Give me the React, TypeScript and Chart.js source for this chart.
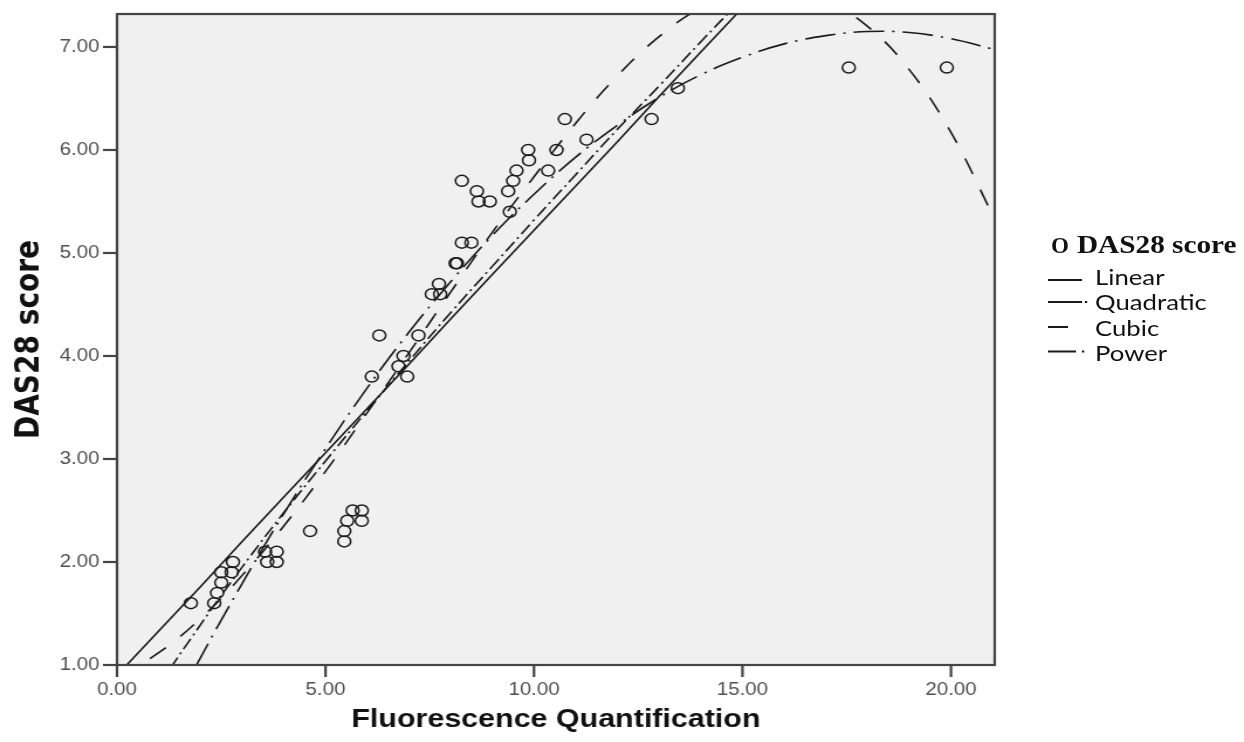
import React, { useEffect, useRef } from "react";
import { Chart, registerables } from "chart.js";

Chart.register(...registerables);

// The reference is horizontally stretched; we draw at CANVAS_W and stretch to 1244.
const CANVAS_W = 1063;
const CANVAS_H = 742;
const STRETCH = 1244 / CANVAS_W;

// ---- axes ----
const xTicks = [0, 5, 10, 15, 20];
const yTicks = [1, 2, 3, 4, 5, 6, 7];
const xMin = 0;
const xMax = 21.05;
const yMin = 1;
const yMax = 7.32;

const xTitle = "Fluorescence Quantification";
const yTitle = "DAS28 score";

// ---- observed points ----
const scoreX = [
  1.77, 2.33, 2.4, 2.5, 2.5, 2.75, 2.78,
  3.55, 3.6, 3.83, 3.83,
  4.63,
  5.45, 5.45, 5.52, 5.65, 5.87, 5.87,
  6.11, 6.29, 6.75, 6.87, 6.96, 7.23,
  7.55, 7.75, 7.72,
  8.12, 8.15,
  8.27, 8.5, 8.27, 8.63, 8.67, 8.94,
  9.38, 9.42, 9.5, 9.58, 9.86, 9.88,
  10.34, 10.54, 10.74, 11.26,
  12.82, 13.45, 17.55, 19.9,
];
const scoreY = [
  1.6, 1.6, 1.7, 1.8, 1.9, 1.9, 2.0,
  2.1, 2.0, 2.1, 2.0,
  2.3,
  2.2, 2.3, 2.4, 2.5, 2.5, 2.4,
  3.8, 4.2, 3.9, 4.0, 3.8, 4.2,
  4.6, 4.6, 4.7,
  4.9, 4.9,
  5.1, 5.1, 5.7, 5.6, 5.5, 5.5,
  5.6, 5.4, 5.7, 5.8, 6.0, 5.9,
  5.8, 6.0, 6.3, 6.1,
  6.3, 6.6, 6.8, 6.8,
];

// ---- fitted curves at x = 0..21 ----
const fitX = [0, 1, 2, 3, 4, 5, 6, 7, 8, 9, 10, 11, 12, 13, 14, 15, 16, 17, 18, 19, 20, 21];
const linearY = [0.9, 1.33, 1.76, 2.2, 2.63, 3.06, 3.49, 3.92, 4.36, 4.79, 5.22, 5.65, 6.08, 6.52, 6.95, 7.38, 7.81, 8.24, 8.68, 9.11, 9.54, 9.97];
const quadraticY = [-0.52, 0.3, 1.07, 1.79, 2.47, 3.1, 3.69, 4.23, 4.72, 5.17, 5.57, 5.93, 6.24, 6.51, 6.73, 6.9, 7.03, 7.11, 7.15, 7.14, 7.08, 6.98];
const cubicY = [0.88, 1.12, 1.45, 1.87, 2.35, 2.88, 3.45, 4.03, 4.62, 5.2, 5.74, 6.26, 6.72, 7.1, 7.38, 7.54, 7.56, 7.45, 7.2, 6.78, 6.17, 5.37];
const powerY = [0, 0.78, 1.39, 1.95, 2.48, 2.98, 3.47, 3.95, 4.42, 4.87, 5.32, 5.76, 6.2, 6.62, 7.05, 7.47, 7.88, 8.28, 8.68, 9.07, 9.45, 9.83];

const seriesName = "DAS28 score";
const fitNames = ["Linear", "Quadratic", "Cubic", "Power"];

const AXIS_COLOR = "#444444";
const TICK_LEN = 12;

const framePlugin = {
  id: "frame",
  beforeDraw(chart: any) {
    const { ctx, chartArea } = chart;
    const { left, top, right, bottom } = chartArea;
    ctx.save();
    ctx.fillStyle = "#f0f0f0";
    ctx.fillRect(left, top, right - left, bottom - top);
    ctx.restore();
  },
  afterDraw(chart: any) {
    const { ctx, chartArea, scales } = chart;
    const { left, top, right, bottom } = chartArea;
    const xs = scales.x;
    const ys = scales.y;
    ctx.save();
    ctx.setLineDash([]);
    ctx.globalAlpha = 1;
    ctx.fillStyle = AXIS_COLOR;
    for (const v of xTicks) {
      const px = xs.getPixelForValue(v);
      ctx.fillRect(px - 1.1, bottom, 2.2, TICK_LEN);
    }
    for (const v of yTicks) {
      const py = ys.getPixelForValue(v);
      ctx.fillRect(left - TICK_LEN, py - 1.1, TICK_LEN, 2.2);
    }
    ctx.strokeStyle = AXIS_COLOR;
    ctx.lineWidth = 2.2;
    ctx.strokeRect(left, top, right - left, bottom - top);
    ctx.restore();
  },
};

export default function App() {
  const ref = useRef<HTMLCanvasElement>(null);

  useEffect(() => {
    const canvas = ref.current;
    if (!canvas) return;
    const pts = (ys: number[]) => fitX.map((x, i) => ({ x, y: ys[i] }));
    const lineBase = {
      showLine: true,
      pointRadius: 0,
      borderColor: "#1a1a1a",
      backgroundColor: "rgba(0,0,0,0)",
      borderWidth: 1.6,
      fill: false,
    };
    const chart = new Chart(canvas, {
      type: "scatter",
      data: {
        datasets: [
          {
            label: seriesName,
            data: scoreX.map((x, i) => ({ x, y: scoreY[i] })),
            pointRadius: 5.5,
            pointBorderWidth: 1.5,
            pointBorderColor: "#1a1a1a",
            pointBackgroundColor: "rgba(0,0,0,0)",
            showLine: false,
          },
          { ...lineBase, label: fitNames[0], data: pts(linearY), tension: 0 },
          { ...lineBase, label: fitNames[1], data: pts(quadraticY), tension: 0.4, borderDash: [26, 7, 2, 7] },
          { ...lineBase, label: fitNames[2], data: pts(cubicY), tension: 0.4, borderDash: [17, 17] },
          { ...lineBase, label: fitNames[3], data: pts(powerY), tension: 0.4, borderDash: [12, 4, 2, 4] },
        ],
      },
      options: {
        responsive: false,
        animation: false,
        devicePixelRatio: 1,
        layout: { padding: { left: 0, top: 14, right: CANVAS_W - 850, bottom: 0 } },
        elements: { line: { capBezierPoints: false } },
        plugins: { legend: { display: false }, tooltip: { enabled: false } },
        scales: {
          x: {
            type: "linear",
            min: xMin,
            max: xMax,
            afterBuildTicks: (s: any) => {
              s.ticks = xTicks.map((v) => ({ value: v }));
            },
            afterFit: (s: any) => {
              s.height = 77;
              s.paddingLeft = 0;
              s.paddingRight = 0;
            },
            ticks: {
              callback: (v: any) => Number(v).toFixed(2),
              font: { family: "Liberation Sans", size: 17.5 },
              color: "#505050",
              padding: 15,
              maxRotation: 0,
            },
            grid: { display: false, drawTicks: false },
            border: { display: true, color: AXIS_COLOR, width: 2 },
            title: {
              display: true,
              text: xTitle,
              font: { family: "Liberation Sans", size: 26, weight: "bold" },
              color: "#111",
              padding: { top: 0, bottom: 7 },
            },
          },
          y: {
            type: "linear",
            min: yMin,
            max: yMax,
            afterBuildTicks: (s: any) => {
              s.ticks = yTicks.map((v) => ({ value: v }));
            },
            afterFit: (s: any) => {
              s.width = 100;
              s.paddingTop = 0;
              s.paddingBottom = 0;
            },
            ticks: {
              callback: (v: any) => Number(v).toFixed(2),
              font: { family: "Liberation Sans", size: 17.5 },
              color: "#505050",
              padding: 15,
            },
            grid: { display: false, drawTicks: false },
            border: { display: true, color: AXIS_COLOR, width: 2 },
            title: {
              display: true,
              text: yTitle,
              font: { family: "DejaVu Sans", size: 28, weight: "bold" },
              color: "#111",
              padding: { top: 9, bottom: 0 },
            },
          },
        },
      },
      plugins: [framePlugin],
    });
    return () => chart.destroy();
  }, []);

  const lx0 = 895.5;
  const lx1 = 924.6;
  const textX = 935.7;

  return (
    <div style={{ position: "fixed", left: 0, top: 0, width: 1244, height: 742, background: "#fff", overflow: "hidden" }}>
      <div
        style={{
          position: "absolute",
          left: 0,
          top: 0,
          width: CANVAS_W,
          height: CANVAS_H,
          transform: `scaleX(${STRETCH})`,
          transformOrigin: "0 0",
        }}
      >
        <canvas ref={ref} width={CANVAS_W} height={CANVAS_H} style={{ width: CANVAS_W, height: CANVAS_H, display: "block" }} />
        <svg
          width={CANVAS_W}
          height={CANVAS_H}
          style={{ position: "absolute", left: 0, top: 0, pointerEvents: "none" }}
        >
          <text
            transform="translate(898,253) scale(0.86,1)"
            x={0}
            y={0}
            fontFamily="Liberation Serif"
            fontWeight="bold"
            fontSize={23}
            fill="#111"
          >
            O
          </text>
          <text x={920.3} y={253} fontFamily="Liberation Serif" fontWeight="bold" fontSize={25} fill="#111">{seriesName}</text>

          <line x1={lx0} y1={280} x2={lx1} y2={280} stroke="#1a1a1a" strokeWidth={2} />
          <text x={textX} y={285} fontFamily="Lato" fontSize={22} fill="#111">{fitNames[0]}</text>

          <line x1={lx0} y1={302} x2={lx1} y2={302} stroke="#1a1a1a" strokeWidth={2} />
          <line x1={927} y1={302} x2={929} y2={302} stroke="#1a1a1a" strokeWidth={2} />
          <text x={textX} y={310.5} fontFamily="Lato" fontSize={22} fill="#111">{fitNames[1]}</text>

          <line x1={lx0} y1={327} x2={912.6} y2={327} stroke="#1a1a1a" strokeWidth={2} />
          <text x={textX} y={336} fontFamily="Lato" fontSize={22} fill="#111">{fitNames[2]}</text>

          <line x1={lx0} y1={351.5} x2={919.5} y2={351.5} stroke="#1a1a1a" strokeWidth={2} />
          <line x1={924.5} y1={351.5} x2={926.5} y2={351.5} stroke="#1a1a1a" strokeWidth={2} />
          <text x={textX} y={361.5} fontFamily="Lato" fontSize={22} fill="#111">{fitNames[3]}</text>
        </svg>
      </div>
    </div>
  );
}
